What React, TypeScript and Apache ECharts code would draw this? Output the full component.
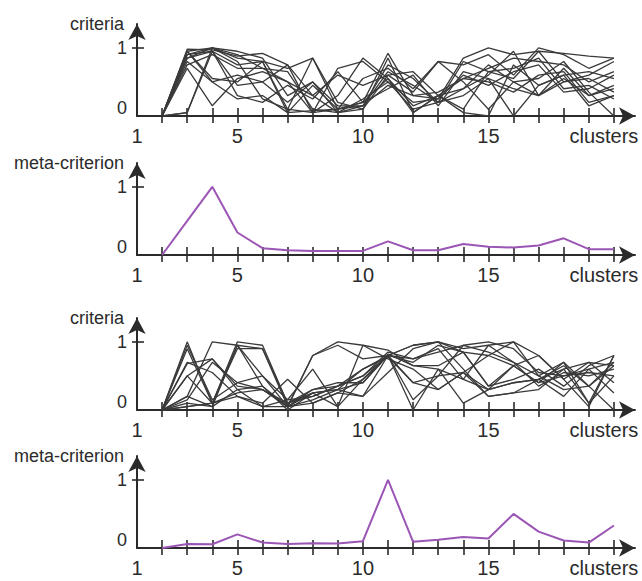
import React, { useEffect, useRef } from "react";
import * as echarts from "echarts";

const clusters = [2, 3, 4, 5, 6, 7, 8, 9, 10, 11, 12, 13, 14, 15, 16, 17, 18, 19, 20];
const tickValues = [2, 3, 4, 5, 6, 7, 8, 9, 10, 11, 12, 13, 14, 15, 16, 17, 18, 19, 20];
const xLabelValues = [1, 5, 10, 15, 20];
const yLabelValues = [0, 1];

const criteriaTop: number[][] = [
  [0, 0.98, 0.97, 0.88, 0.92, 0.75, 0.05, 0.1, 0.2, 0.92, 0.3, 0.25, 0.85, 1.0, 0.9, 0.95, 0.92, 0.88, 0.85],
  [0, 0.95, 1.0, 0.85, 0.8, 0.05, 0.08, 0.1, 0.55, 0.7, 0.4, 0.8, 0.75, 0.9, 0.6, 1.0, 0.9, 0.7, 0.85],
  [0, 0.9, 0.95, 0.75, 0.8, 0.7, 0.85, 0.2, 0.1, 0.6, 0.65, 0.3, 0.55, 0.7, 0.85, 0.8, 0.75, 0.5, 0.65],
  [0, 0.85, 1.0, 0.9, 0.7, 0.5, 0.05, 0.7, 0.8, 0.5, 0.1, 0.2, 0.4, 0.6, 0.95, 0.3, 0.55, 0.3, 0.4],
  [0, 0.8, 0.5, 0.6, 0.5, 0.75, 0.3, 0.05, 0.15, 0.45, 0.3, 0.35, 0.55, 0.5, 0.35, 0.6, 0.65, 0.2, 0.3],
  [0, 0.05, 1.0, 0.8, 0.25, 0.1, 0.85, 0.1, 0.2, 0.55, 0.05, 0.3, 0.1, 0.65, 0.7, 0.85, 0.4, 0.45, 0.25],
  [0, 0.7, 0.15, 0.55, 0.65, 0.5, 0.3, 0.6, 0.45, 0.6, 0.35, 0.8, 0.5, 0.1, 0.5, 0.3, 0.7, 0.3, 0.45],
  [0, 0.95, 0.5, 0.25, 0.3, 0.05, 0.45, 0.1, 0.15, 0.65, 0.45, 0.2, 0.3, 0.55, 0.4, 0.3, 0.5, 0.55, 0.35],
  [0, 0.05, 0.95, 0.45, 0.5, 0.2, 0.5, 0.05, 0.25, 0.5, 0.2, 0.25, 0.6, 0.45, 0.65, 0.75, 0.35, 0.4, 0.6],
  [0, 0.95, 0.55, 0.5, 0.8, 0.1, 0.05, 0.3, 0.85, 0.55, 0.15, 0.3, 0.05, 0.0, 0.75, 0.45, 0.6, 0.65, 0.55],
  [0, 0.85, 0.95, 0.3, 0.2, 0.45, 0.25, 0.65, 0.2, 0.4, 0.6, 0.15, 0.65, 0.55, 0.0, 0.45, 0.6, 0.15, 0.3],
  [0, 0.75, 0.9, 0.7, 0.7, 0.65, 0.1, 0.05, 0.1, 0.85, 0.05, 0.3, 0.4, 0.75, 0.5, 0.55, 0.8, 0.35, 0.0],
  [0, 0.9, 1.0, 0.95, 0.85, 0.3, 0.5, 0.15, 0.15, 0.75, 0.55, 0.2, 0.8, 0.65, 0.55, 0.95, 0.5, 0.6, 0.8],
];

const metaTop = [0, 0.5, 1.0, 0.33, 0.1, 0.07, 0.06, 0.06, 0.06, 0.2, 0.07, 0.07, 0.16, 0.12, 0.11, 0.14, 0.245, 0.085, 0.085];

const criteriaBottom: number[][] = [
  [0, 1.0, 0.1, 0.95, 0.9, 0.05, 0.8, 0.95, 0.75, 0.8, 0.95, 1.0, 0.9, 0.95, 0.7, 0.5, 0.7, 0.1, 0.8],
  [0, 0.9, 0.1, 1.0, 0.95, 0.1, 0.25, 0.3, 0.6, 0.8, 0.75, 0.85, 0.95, 1.0, 0.9, 0.55, 0.5, 0.6, 0.7],
  [0, 0.68, 0.75, 0.35, 0.3, 0.05, 0.8, 1.0, 0.95, 0.88, 0.65, 0.6, 0.45, 0.3, 0.4, 0.45, 0.65, 0.35, 0.65],
  [0, 0.5, 0.1, 0.9, 0.9, 0.1, 0.2, 0.35, 0.5, 0.8, 0.4, 0.3, 0.55, 0.8, 1.0, 0.8, 0.45, 0.05, 0.8],
  [0, 0.2, 1.0, 0.95, 0.5, 0.15, 0.6, 0.05, 0.45, 0.8, 0.95, 1.0, 0.85, 0.35, 0.65, 0.4, 0.5, 0.55, 0.5],
  [0, 0.15, 0.7, 0.4, 0.3, 0.05, 0.1, 0.25, 0.2, 0.8, 0.15, 0.5, 0.55, 0.2, 0.25, 0.3, 0.6, 0.7, 0.4],
  [0, 0.1, 0.05, 0.3, 0.35, 0.0, 0.25, 0.3, 0.4, 0.8, 0.0, 0.6, 0.1, 0.3, 0.4, 0.45, 0.2, 0.6, 0.25],
  [0, 0.05, 0.1, 0.2, 0.1, 0.45, 0.1, 0.25, 0.45, 0.8, 0.7, 0.95, 0.85, 0.8, 0.65, 0.4, 0.7, 0.35, 0.0],
  [0, 0.95, 0.15, 0.4, 0.5, 0.05, 0.25, 0.05, 0.95, 0.75, 0.6, 0.3, 0.55, 0.3, 0.65, 0.8, 0.45, 0.7, 0.65],
  [0, 0.7, 0.55, 0.2, 0.05, 0.15, 0.2, 0.35, 0.5, 0.85, 0.75, 0.9, 0.45, 0.95, 1.0, 0.5, 0.3, 0.35, 0.7],
  [0, 0.05, 0.1, 0.25, 0.3, 0.1, 0.3, 0.35, 0.6, 0.78, 0.4, 0.5, 0.95, 0.85, 0.7, 0.35, 0.55, 0.5, 0.6],
  [0, 0.2, 0.05, 0.95, 0.35, 0.05, 0.15, 0.3, 0.2, 0.55, 0.9, 1.0, 0.6, 0.2, 0.25, 0.45, 0.6, 0.1, 0.5],
  [0, 0.5, 0.75, 0.3, 0.05, 0.05, 0.3, 0.4, 0.4, 0.82, 0.65, 0.65, 0.85, 0.35, 0.45, 0.6, 0.35, 0.65, 0.8],
];

const metaBottom = [0, 0.06, 0.055, 0.2, 0.08, 0.06, 0.07, 0.065, 0.1, 1.0, 0.09, 0.12, 0.16, 0.14, 0.5, 0.24, 0.11, 0.08, 0.33];

const panelNames = ["criteria", "meta-criterion", "criteria", "meta-criterion"];

const FONT = "'Liberation Sans', Arial, Helvetica, sans-serif";
const AXIS_COLOR = "#2b2b2b";
const TEXT_COLOR = "#2b2b2b";
const LINE_COLOR = "#3a3a3a";
const META_COLOR = "#9b55b4";

const X_MAX = 20.84;
const Y_MAX = 1.35;
const panelTops = [24, 163, 318, 456];
const panelHeight = 92;

export default function App() {
  const ref = useRef<HTMLDivElement>(null);

  useEffect(() => {
    if (!ref.current) return;
    const chart = echarts.init(ref.current, undefined, { renderer: "svg" });

    const grids: any[] = [];
    const xAxes: any[] = [];
    const yAxes: any[] = [];
    const series: any[] = [];

    panelTops.forEach((top, i) => {
      grids.push({ left: 137, right: 7, top, height: panelHeight, containLabel: false });
    });
    // overlay grids for the inner half of crossing ticks
    panelTops.forEach((top) => {
      grids.push({ left: 137, right: 7, top, height: panelHeight, containLabel: false });
    });

    panelTops.forEach((_, i) => {
      xAxes.push({
        type: "value",
        gridIndex: i,
        min: 1,
        max: X_MAX,
        axisLine: {
          show: true,
          onZero: false,
          symbol: ["none", "arrow"],
          symbolSize: [13, 16],
          lineStyle: { color: AXIS_COLOR, width: 2 },
        },
        axisTick: {
          show: true,
          inside: false,
          length: 7,
          customValues: tickValues,
          lineStyle: { color: AXIS_COLOR, width: 1.6 },
        },
        axisLabel: {
          show: true,
          customValues: xLabelValues,
          margin: 10,
          fontFamily: FONT,
          fontSize: 20,
          color: TEXT_COLOR,
          formatter: (v: number) => (v === 20 ? "{c|clusters}" : String(v)),
          rich: {
            c: { fontFamily: FONT, fontSize: 20, color: TEXT_COLOR, padding: [0, 20, 0, 0] },
          },
        },
        splitLine: { show: false },
      });
      yAxes.push({
        type: "value",
        gridIndex: i,
        min: 0,
        max: Y_MAX,
        name: panelNames[i],
        nameLocation: "end",
        nameGap: 0,
        nameTextStyle: {
          fontFamily: FONT,
          fontSize: 18,
          color: TEXT_COLOR,
          align: "right",
          verticalAlign: "middle",
          padding: [0, 13, 0, 0],
        },
        axisLine: {
          show: true,
          onZero: false,
          symbol: ["none", "arrow"],
          symbolSize: [13, 16],
          lineStyle: { color: AXIS_COLOR, width: 2 },
        },
        axisTick: {
          show: true,
          inside: false,
          length: 5,
          customValues: [1],
          lineStyle: { color: AXIS_COLOR, width: 1.6 },
        },
        axisLabel: {
          show: true,
          customValues: yLabelValues,
          margin: 10,
          fontFamily: FONT,
          fontSize: 18,
          color: TEXT_COLOR,
          formatter: (v: number) => (v === 0 ? "{z|0}" : "{o|" + v + "}"),
          rich: {
            z: { fontFamily: FONT, fontSize: 18, color: TEXT_COLOR, padding: [0, 0, 16, 0] },
            o: { fontFamily: FONT, fontSize: 18, color: TEXT_COLOR },
          },
        },
        splitLine: { show: false },
      });
    });

    panelTops.forEach((_, i) => {
      xAxes.push({
        type: "value",
        gridIndex: 4 + i,
        min: 1,
        max: X_MAX,
        axisLine: { show: false },
        axisTick: {
          show: true,
          inside: true,
          length: 8,
          customValues: tickValues,
          lineStyle: { color: AXIS_COLOR, width: 1.6 },
        },
        axisLabel: { show: false },
        splitLine: { show: false },
      });
      yAxes.push({
        type: "value",
        gridIndex: 4 + i,
        min: 0,
        max: Y_MAX,
        axisLine: { show: false },
        axisTick: {
          show: true,
          inside: true,
          length: 7,
          customValues: [1],
          lineStyle: { color: AXIS_COLOR, width: 1.6 },
        },
        axisLabel: { show: false },
        splitLine: { show: false },
      });
    });

    const addCriteria = (sets: number[][], idx: number) => {
      sets.forEach((vals, k) => {
        series.push({
          type: "line",
          name: "criterion " + (k + 1),
          xAxisIndex: idx,
          yAxisIndex: idx,
          data: clusters.map((c, j) => [c, vals[j]]),
          showSymbol: false,
          symbol: "none",
          lineStyle: { color: LINE_COLOR, width: 1.3 },
          z: 3,
        });
      });
    };
    const addMeta = (vals: number[], idx: number) => {
      series.push({
        type: "line",
        name: "meta-criterion",
        xAxisIndex: idx,
        yAxisIndex: idx,
        data: clusters.map((c, j) => [c, vals[j]]),
        showSymbol: false,
        symbol: "none",
        lineStyle: { color: META_COLOR, width: 2 },
        z: 3,
      });
    };

    addCriteria(criteriaTop, 0);
    addMeta(metaTop, 1);
    addCriteria(criteriaBottom, 2);
    addMeta(metaBottom, 3);

    chart.setOption({
      animation: false,
      backgroundColor: "#ffffff",
      grid: grids,
      xAxis: xAxes,
      yAxis: yAxes,
      series,
    });

    return () => {
      chart.dispose();
    };
  }, []);

  return (
    <div
      ref={ref}
      style={{ position: "fixed", left: 0, top: 0, width: 642, height: 581, background: "#fff" }}
    />
  );
}
